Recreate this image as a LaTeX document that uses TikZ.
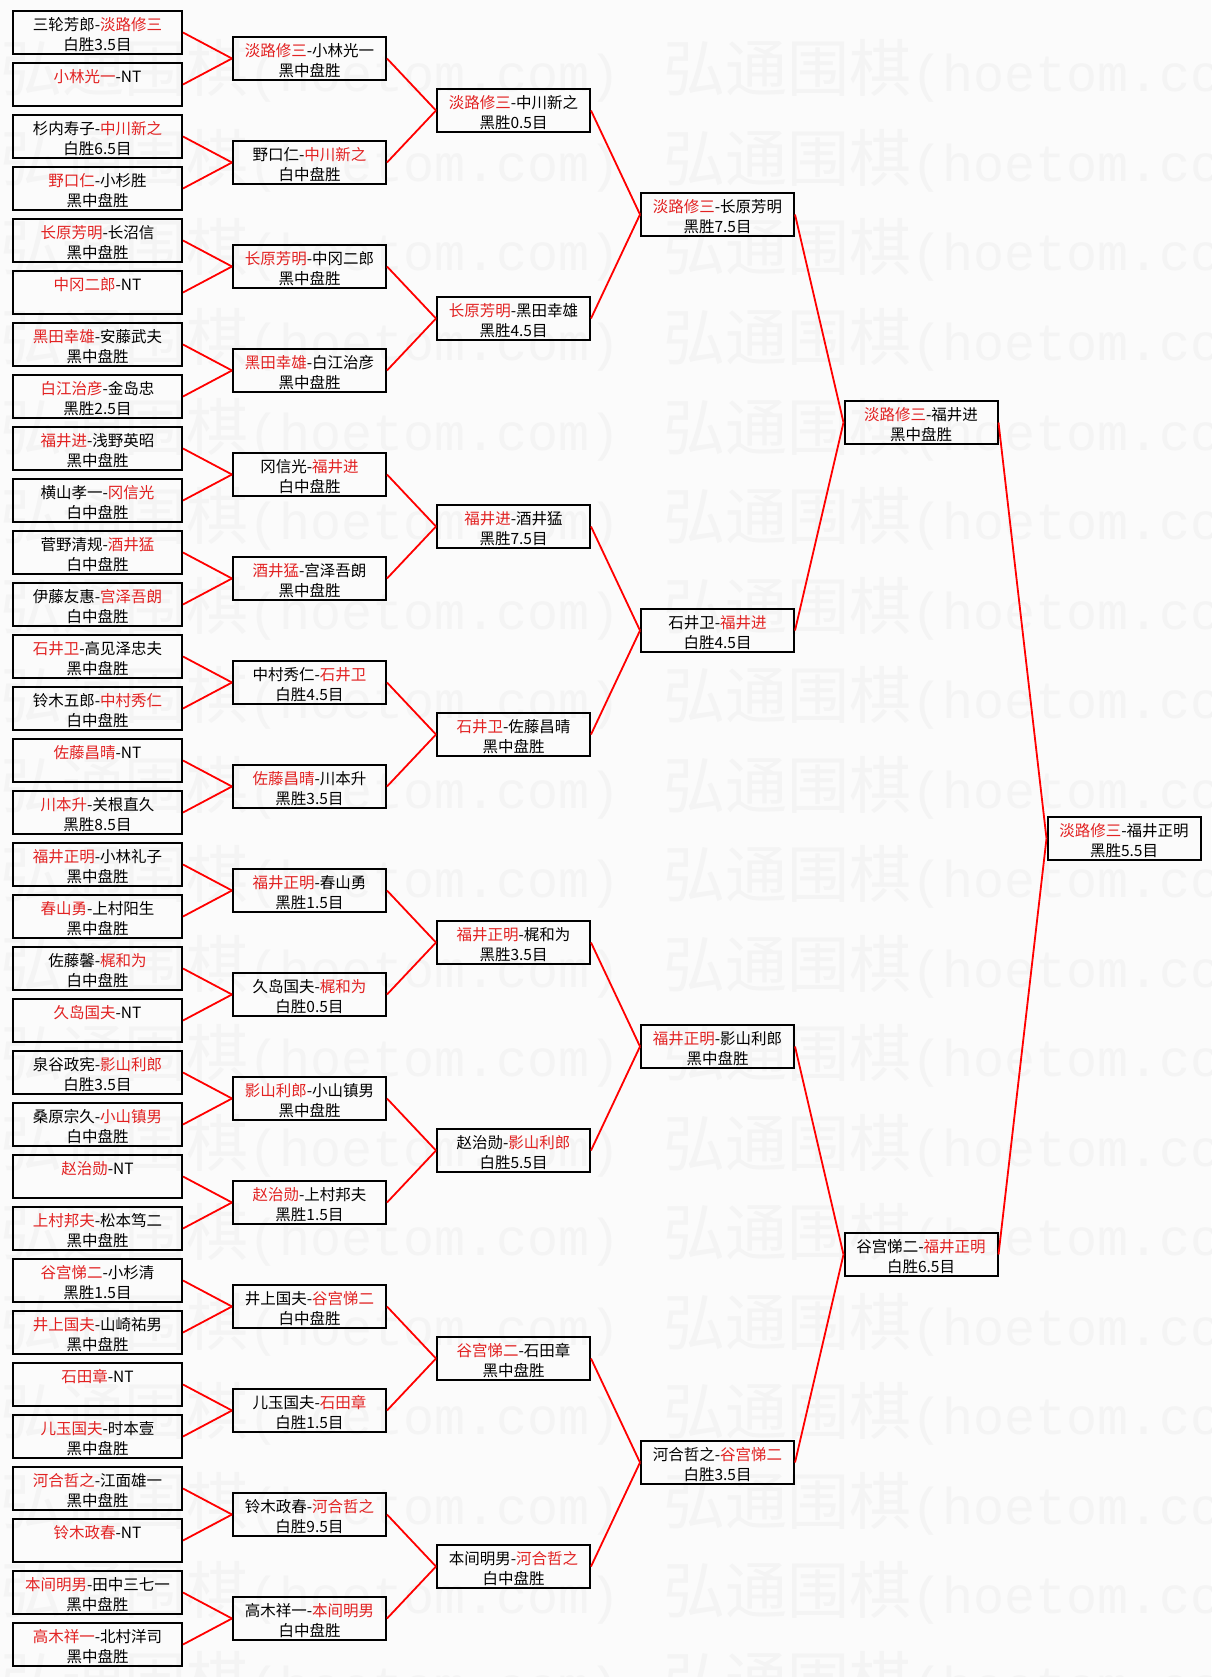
\documentclass[tikz,border=0pt]{standalone}
\usepackage{fontspec}
\setmainfont{Noto Sans CJK SC}
\newfontfamily\wmmono{Liberation Mono}
\definecolor{winred}{RGB}{226,34,34}
\definecolor{pagebg}{RGB}{251,251,251}
\definecolor{wmgray}{RGB}{244,244,244}

\begin{document}
\begin{tikzpicture}[x=1pt,y=-1pt]
	\newcommand{\winner}[1]{\textcolor{winred}{#1}}
	\newcommand{\boxstrut}{\rule[-1.6pt]{0pt}{19.5pt}} % keeps both lines at fixed heights
	\newcommand{\duel}[2]{\boxstrut#1\\\boxstrut#2}

	% set the style of the game boxes
	\tikzset{
		game/.style={
			draw=black,
			line width=2pt,
			minimum width=153pt,
			minimum height=43pt,
			inner sep=0pt,
			align=center,
			font=\fontsize{15.5}{19.5}\selectfont
			},
		firstgame/.style={game, minimum width=169pt},
		bracketline/.style={red, line width=1.8pt},
		wmark/.style={wmgray, inner sep=0pt, anchor=base west}
	}

	% page and watermark
	\fill[pagebg] (0,0) rectangle (1211,1677);
	\useasboundingbox (0,0) rectangle (1211,1677);
	\foreach \r in {0,...,18}
		\foreach \c in {0,1}
			\node[wmark] (wm-\r-\c) at ({663*\c},{92+89.5*\r}) {{\fontsize{62}{62}\selectfont 弘通围棋}{\wmmono\fontsize{51.7}{62}\selectfont (hoetom.com)}};

	% first round
	\foreach \lna/\lnb [count=\k] in {
		三轮芳郎-\winner{淡路修三}/白胜3.5目,
		\winner{小林光一}-NT/,
		杉内寿子-\winner{中川新之}/白胜6.5目,
		\winner{野口仁}-小杉胜/黑中盘胜,
		\winner{长原芳明}-长沼信/黑中盘胜,
		\winner{中冈二郎}-NT/,
		\winner{黑田幸雄}-安藤武夫/黑中盘胜,
		\winner{白江治彦}-金岛忠/黑胜2.5目,
		\winner{福井进}-浅野英昭/黑中盘胜,
		横山孝一-\winner{冈信光}/白中盘胜,
		菅野清规-\winner{酒井猛}/白中盘胜,
		伊藤友惠-\winner{宫泽吾朗}/白中盘胜,
		\winner{石井卫}-高见泽忠夫/黑中盘胜,
		铃木五郎-\winner{中村秀仁}/白中盘胜,
		\winner{佐藤昌晴}-NT/,
		\winner{川本升}-关根直久/黑胜8.5目,
		\winner{福井正明}-小林礼子/黑中盘胜,
		\winner{春山勇}-上村阳生/黑中盘胜,
		佐藤馨-\winner{梶和为}/白中盘胜,
		\winner{久岛国夫}-NT/,
		泉谷政宪-\winner{影山利郎}/白胜3.5目,
		桑原宗久-\winner{小山镇男}/白中盘胜,
		\winner{赵治勋}-NT/,
		\winner{上村邦夫}-松本笃二/黑中盘胜,
		\winner{谷宫悌二}-小杉清/黑胜1.5目,
		\winner{井上国夫}-山崎祐男/黑中盘胜,
		\winner{石田章}-NT/,
		\winner{儿玉国夫}-时本壹/黑中盘胜,
		\winner{河合哲之}-江面雄一/黑中盘胜,
		\winner{铃木政春}-NT/,
		\winner{本间明男}-田中三七一/黑中盘胜,
		\winner{高木祥一}-北村洋司/黑中盘胜}
		\node[firstgame] (a\k) at (97.5,{32.5+52*(\k-1)}) {\duel{\lna}{\lnb}};

	% second round
	\foreach \lna/\lnb [count=\k] in {
		\winner{淡路修三}-小林光一/黑中盘胜,
		野口仁-\winner{中川新之}/白中盘胜,
		\winner{长原芳明}-中冈二郎/黑中盘胜,
		\winner{黑田幸雄}-白江治彦/黑中盘胜,
		冈信光-\winner{福井进}/白中盘胜,
		\winner{酒井猛}-宫泽吾朗/黑中盘胜,
		中村秀仁-\winner{石井卫}/白胜4.5目,
		\winner{佐藤昌晴}-川本升/黑胜3.5目,
		\winner{福井正明}-春山勇/黑胜1.5目,
		久岛国夫-\winner{梶和为}/白胜0.5目,
		\winner{影山利郎}-小山镇男/黑中盘胜,
		\winner{赵治勋}-上村邦夫/黑胜1.5目,
		井上国夫-\winner{谷宫悌二}/白中盘胜,
		儿玉国夫-\winner{石田章}/白胜1.5目,
		铃木政春-\winner{河合哲之}/白胜9.5目,
		高木祥一-\winner{本间明男}/白中盘胜}
		\node[game] (b\k) at (309.5,{58.5+104*(\k-1)}) {\duel{\lna}{\lnb}};

	% third round
	\foreach \lna/\lnb [count=\k] in {
		\winner{淡路修三}-中川新之/黑胜0.5目,
		\winner{长原芳明}-黑田幸雄/黑胜4.5目,
		\winner{福井进}-酒井猛/黑胜7.5目,
		\winner{石井卫}-佐藤昌晴/黑中盘胜,
		\winner{福井正明}-梶和为/黑胜3.5目,
		赵治勋-\winner{影山利郎}/白胜5.5目,
		\winner{谷宫悌二}-石田章/黑中盘胜,
		本间明男-\winner{河合哲之}/白中盘胜}
		\node[game] (c\k) at (513.5,{110.5+208*(\k-1)}) {\duel{\lna}{\lnb}};

	% quarter finals
	\node[game] (d1) at (717.5,214.5) {\duel{\winner{淡路修三}-长原芳明}{黑胜7.5目}};
	\node[game] (d2) at (717.5,630.5) {\duel{石井卫-\winner{福井进}}{白胜4.5目}};
	\node[game] (d3) at (717.5,1046.5) {\duel{\winner{福井正明}-影山利郎}{黑中盘胜}};
	\node[game] (d4) at (717.5,1462.5) {\duel{河合哲之-\winner{谷宫悌二}}{白胜3.5目}};

	% semi finals and final
	\node[game] (e1) at (921,422.5) {\duel{\winner{淡路修三}-福井进}{黑中盘胜}};
	\node[game] (e2) at (921,1254.5) {\duel{谷宫悌二-\winner{福井正明}}{白胜6.5目}};
	\node[game] (f1) at (1124,838.5) {\duel{\winner{淡路修三}-福井正明}{黑胜5.5目}};

	% bracket lines
	\foreach \src/\dst/\n in {a/b/16, b/c/8, c/d/4, d/e/2, e/f/1}
		\foreach \k in {1,...,\n} {
			\pgfmathtruncatemacro{\kup}{2*\k-1}
			\pgfmathtruncatemacro{\kdn}{2*\k}
			\draw[bracketline] (\src\kup.east) -- (\dst\k.west);
			\draw[bracketline] (\src\kdn.east) -- (\dst\k.west);
		}
\end{tikzpicture}
\end{document}
